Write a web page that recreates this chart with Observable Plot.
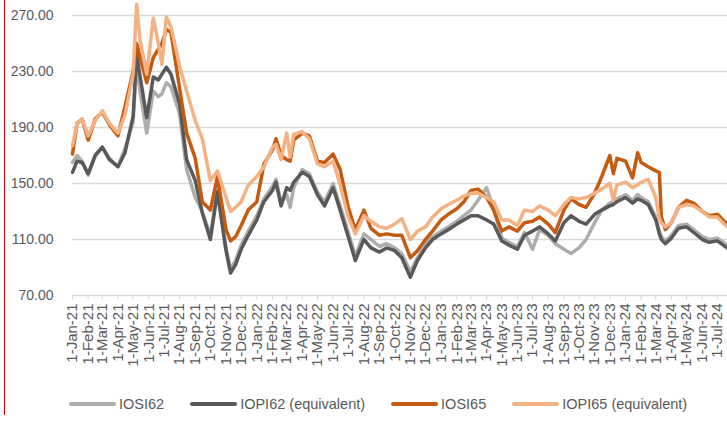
<!DOCTYPE html>
<html>
<head>
<meta charset="utf-8">
<script src="https://cdn.jsdelivr.net/npm/d3@7"></script>
<script src="https://cdn.jsdelivr.net/npm/@observablehq/plot@0.6"></script>
<style>
  html, body { margin: 0; padding: 0; background: #fff; }
  #wrap { position: relative; width: 727px; height: 421px; overflow: hidden; font-family: "Liberation Sans", Arial, sans-serif; }
  #redline { position: absolute; left: 4px; top: 0; width: 1px; height: 415px; background: #e00000; }
  #legend { position: absolute; left: 69px; top: 396px; display: flex; align-items: center; gap: 26px; font-size: 14.5px; color: #595959; white-space: nowrap; }
  .item { display: flex; align-items: center; }
  .sw { width: 47px; height: 4px; border-radius: 2px; margin-right: 3px; }
</style>
</head>
<body>
<div id="wrap">
  <div id="chart"></div>
  <div id="legend"></div>
  <div id="redline"></div>
</div>
<script>
const dates = [
  "2021-01-01","2021-01-10","2021-01-20","2021-02-01","2021-02-15","2021-03-01","2021-03-15","2021-04-01","2021-04-15","2021-05-01",
  "2021-05-08","2021-05-15","2021-05-28","2021-06-10","2021-06-20","2021-06-27","2021-07-06","2021-07-15","2021-08-01","2021-08-15",
  "2021-09-01","2021-09-15","2021-10-01","2021-10-15","2021-11-01","2021-11-10","2021-11-20","2021-12-01","2021-12-15","2022-01-01",
  "2022-01-15","2022-02-01","2022-02-08","2022-02-18","2022-03-01","2022-03-08","2022-03-15","2022-04-01","2022-04-15","2022-05-01",
  "2022-05-15","2022-06-01","2022-06-15","2022-07-01","2022-07-15","2022-08-01","2022-08-15","2022-09-01","2022-09-15","2022-10-01",
  "2022-10-15","2022-11-01","2022-11-15","2022-12-01","2022-12-15","2023-01-01","2023-01-15","2023-02-01","2023-02-15","2023-03-01",
  "2023-03-15","2023-04-01","2023-04-15","2023-05-01","2023-05-15","2023-06-01","2023-06-15","2023-07-01","2023-07-15","2023-08-01",
  "2023-08-15","2023-09-01","2023-09-15","2023-10-01","2023-10-15","2023-11-01","2023-11-15","2023-12-01","2023-12-08","2023-12-15",
  "2024-01-01","2024-01-15","2024-01-25","2024-02-01","2024-02-15","2024-03-01","2024-03-08","2024-03-12","2024-03-20","2024-04-01",
  "2024-04-15","2024-05-01","2024-05-15","2024-06-01","2024-06-15","2024-07-01","2024-07-20"
];
const iosi62 = [
  165,170,166,156,170,176,168,162,175,194,
  236,215,186,216,212,214,222,219,200,160,
  140,130,113,146,104,89,95,106,116,127,
  139,148,153,136,142,133,147,160,157,144,
  137,150,134,115,98,114,110,105,107,104,
  100,87,97,106,112,116,119,123,127,131,
  138,147,132,111,108,105,115,103,117,113,
  107,103,100,104,110,122,131,136,137,139,
  142,138,142,140,137,126,116,112,109,113,
  120,121,117,112,110,111,106
];
const iopi62 = [
  158,166,165,157,170,176,167,162,172,198,
  242,226,197,226,224,228,233,228,207,167,
  152,129,110,144,102,86,92,103,113,124,
  137,145,151,134,147,145,151,158,155,142,
  134,147,131,112,95,110,104,101,104,102,
  97,83,95,104,110,114,117,121,124,127,
  127,124,121,109,106,103,113,116,119,114,
  109,122,127,123,121,128,131,134,135,137,
  140,136,139,138,135,124,114,110,107,111,
  118,119,115,110,108,109,104
];
const iosi65 = [
  171,193,196,181,196,201,192,184,205,230,
  250,240,222,240,246,250,260,258,218,186,
  168,137,131,155,117,109,112,120,131,137,
  164,174,182,170,167,166,181,186,184,166,
  165,171,160,133,117,131,118,113,114,113,
  113,97,102,110,116,124,128,132,137,145,
  146,140,131,116,119,116,122,123,126,121,
  115,131,139,135,133,143,155,170,157,168,
  166,154,172,165,162,159,158,126,117,122,
  133,138,136,130,127,128,121
];
const iopi65 = [
  177,193,196,184,195,202,193,186,199,228,
  278,252,228,268,250,235,269,262,234,216,
  195,182,152,159,140,130,133,137,149,155,
  162,176,178,167,186,169,185,187,182,164,
  162,166,149,126,114,127,123,119,118,121,
  125,110,116,119,126,132,135,138,141,143,
  143,140,137,124,124,120,131,130,134,131,
  127,135,140,139,140,143,146,150,138,149,
  151,147,149,151,153,140,125,122,119,122,
  133,135,134,130,126,126,119
];
const seriesNames = ["IOSI62", "IOPI62 (equivalent)", "IOSI65", "IOPI65 (equivalent)"];
const seriesColors = ["#adadad", "#595959", "#c55a11", "#f4b183"];
const yTicks = [70, 110, 150, 190, 230, 270];
const xStart = "2021-01-01", xTickEnd = "2024-07-01", xEnd = "2024-07-21";

const parse = d3.utcParse("%Y-%m-%d");
const seriesValues = [iosi62, iopi62, iosi65, iopi65];
const rows = [];
seriesValues.forEach((vals, s) => {
  vals.forEach((v, i) => rows.push({date: parse(dates[i]), value: v, name: seriesNames[s], order: s}));
});
const xTicks = d3.utcMonth.range(parse(xStart), d3.utcDay.offset(parse(xTickEnd), 1));

const chart = Plot.plot({
  width: 727,
  height: 380,
  marginLeft: 72,
  marginRight: 0,
  marginTop: 15,
  marginBottom: 85,
  style: {fontFamily: "'Liberation Sans', Arial, sans-serif", background: "#fff"},
  x: {type: "utc", domain: [parse(xStart), parse(xEnd)]},
  y: {domain: [70, 270]},
  color: {domain: seriesNames, range: seriesColors},
  marks: [
    Plot.ruleY(yTicks.filter(t => t > 70), {stroke: "#d9d9d9", strokeWidth: 1.4}),
    Plot.ruleY([70], {stroke: "#d9d9d9", strokeWidth: 1.4}),
    Plot.axisY(yTicks, {tickSize: 0, tickPadding: 19, tickFormat: d => d.toFixed(2), fontSize: 14, fill: "#595959", label: null}),
    Plot.axisX(xTicks, {tickSize: 5, tickPadding: 3, tickRotate: -90, tickFormat: d3.utcFormat("%-d-%b-%y"), fontSize: 15, stroke: "#d9d9d9", fill: "#595959", label: null}),
    Plot.line(rows, {x: "date", y: "value", z: "name", stroke: "name", strokeWidth: 3.5, strokeLinejoin: "round", strokeLinecap: "round"})
  ]
});
document.getElementById("chart").appendChild(chart);

const legend = document.getElementById("legend");
seriesNames.forEach((n, i) => {
  const item = document.createElement("div");
  item.className = "item";
  const sw = document.createElement("span");
  sw.className = "sw";
  sw.style.background = seriesColors[i];
  const t = document.createElement("span");
  t.textContent = n;
  item.appendChild(sw);
  item.appendChild(t);
  legend.appendChild(item);
});
</script>
</body>
</html>
